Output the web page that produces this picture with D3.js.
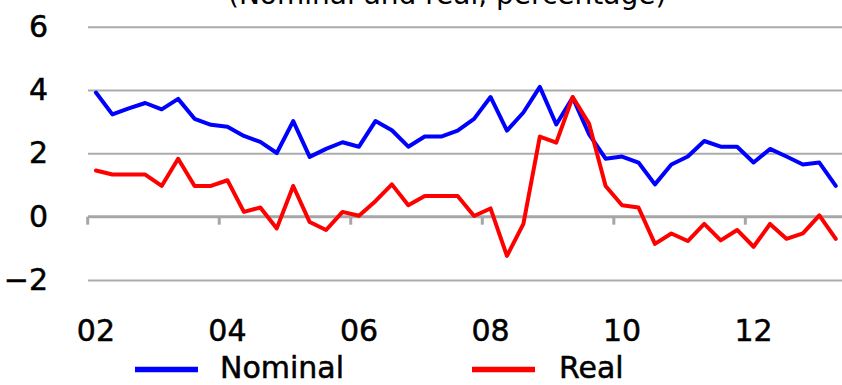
<!DOCTYPE html>
<html>
<head>
<meta charset="utf-8">
<script src="https://cdn.jsdelivr.net/npm/d3@7/dist/d3.min.js"></script>
<style>
  html, body { margin: 0; padding: 0; background: #ffffff; }
  svg { display: block; }
  text { font-family: "DejaVu Sans", Verdana, sans-serif; fill: #000; }
</style>
</head>
<body>
<svg id="chart" width="842" height="385"></svg>
<script>
// ---- data ----
const years = ["2002","2003","2004","2005","2006","2007","2008","2009","2010","2011","2012","2013"];
const quarters = [];
years.forEach(y => ["Q1","Q2","Q3","Q4"].forEach(q => quarters.push(y + q)));
const categories = quarters.slice(0, 46); // 2002Q1 .. 2013Q2

const nominal = [3.92,3.23,3.42,3.59,3.39,3.72,3.09,2.90,2.84,2.55,2.36,2.01,
                 3.02,1.89,2.14,2.35,2.21,3.02,2.73,2.21,2.53,2.53,2.72,3.09,
                 3.78,2.72,3.29,4.10,2.91,3.76,2.60,1.83,1.90,1.71,1.02,1.65,
                 1.90,2.39,2.21,2.21,1.71,2.14,1.90,1.65,1.71,0.97];
const real    = [1.46,1.33,1.33,1.33,0.97,1.83,0.97,0.97,1.15,0.15,0.29,-0.37,
                 0.97,-0.17,-0.42,0.15,0.03,0.49,1.02,0.36,0.65,0.65,0.65,0.02,
                 0.26,-1.24,-0.23,2.53,2.34,3.78,2.93,0.97,0.36,0.29,-0.86,-0.53,
                 -0.77,-0.23,-0.75,-0.42,-0.95,-0.23,-0.70,-0.53,0.04,-0.70];

const yTicks = [-2, 0, 2, 4, 6];
const xTickCats = ["2002Q1","2004Q1","2006Q1","2008Q1","2010Q1","2012Q1"];
const xTickLabels = ["02","04","06","08","10","12"];
const seriesNames = ["Nominal", "Real"];
const seriesColors = ["#0000ff", "#ff0000"];
const titleText = "(Nominal and real, percentage)";

// ---- scales ----
const svg = d3.select("#chart");
const x = d3.scaleBand().domain(categories).range([87.7, 844]).padding(0);
const y = d3.scaleLinear().domain([-2, 6]).range([280, 26.7]);
const cx = c => x(c) + x.bandwidth() / 2;

// title (cut off at top, as in the reference)
svg.append("text").attr("x", 228).attr("y", 4)
  .attr("font-size", 28).text(titleText);

// gridlines
const grid = svg.append("g")
  .attr("transform", "translate(88,0)")
  .call(d3.axisLeft(y).tickValues(yTicks.filter(v => v !== 0)).tickSize(-754).tickFormat(""));
grid.select(".domain").remove();
grid.selectAll(".tick line").attr("stroke", "#ababab").attr("stroke-width", 2);

// y labels
const yAx = svg.append("g")
  .attr("transform", "translate(48,0)")
  .call(d3.axisLeft(y).tickValues(yTicks).tickSize(0).tickPadding(0)
        .tickFormat(d => d < 0 ? "\u2212" + Math.abs(d) : String(d)));
yAx.select(".domain").remove();
yAx.selectAll(".tick text")
  .attr("font-family", "DejaVu Sans, Verdana, sans-serif")
  .attr("font-size", 30).attr("fill", "#000")
  .attr("stroke", "#000").attr("stroke-width", 0.5)
  .attr("text-anchor", "end").attr("dy", null).attr("y", 9.5);

// zero axis with tick marks between categories
const xAx = svg.append("g")
  .attr("transform", `translate(0,${y(0)})`)
  .call(d3.axisBottom(x).tickValues(xTickCats).tickSize(8).tickSizeOuter(0).tickFormat(""));
xAx.select(".domain").attr("stroke", "#a6a6a6").attr("stroke-width", 3)
  .attr("d", `M88,0H842`);
xAx.selectAll(".tick").attr("transform", d => `translate(${x(d)},0)`);
xAx.selectAll(".tick line").attr("stroke", "#a6a6a6").attr("stroke-width", 3);

// x labels
svg.append("g").selectAll("text").data(xTickCats).join("text")
  .attr("x", d => cx(d)).attr("y", 341)
  .attr("text-anchor", "middle").attr("font-size", 30)
  .attr("stroke", "#000").attr("stroke-width", 0.5)
  .text((d, i) => xTickLabels[i]);

// lines
const line = d3.line().x((d, i) => cx(categories[i])).y(d => y(d));
[nominal, real].forEach((s, k) => {
  svg.append("path").datum(s)
    .attr("d", line)
    .attr("fill", "none")
    .attr("stroke", seriesColors[k])
    .attr("stroke-width", 4)
    .attr("stroke-linejoin", "round")
    .attr("stroke-linecap", "round");
});

// legend
const legendX = [135, 472];
const legendTextX = [220, 559];
seriesNames.forEach((n, k) => {
  svg.append("line")
    .attr("x1", legendX[k]).attr("x2", legendX[k] + 63)
    .attr("y1", 369.5).attr("y2", 369.5)
    .attr("stroke", seriesColors[k]).attr("stroke-width", 5.5);
  svg.append("text").attr("x", legendTextX[k]).attr("y", 378)
    .attr("font-size", 30)
    .attr("stroke", "#000").attr("stroke-width", 0.5)
    .text(n);
});
</script>
</body>
</html>
